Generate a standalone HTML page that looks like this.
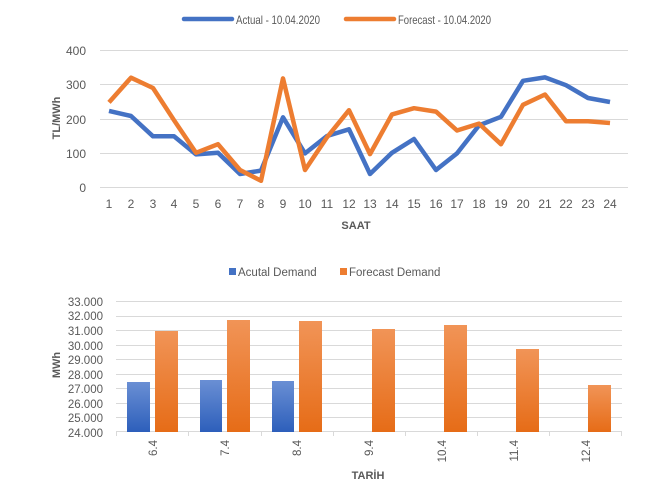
<!DOCTYPE html>
<html><head><meta charset="utf-8"><style>
html,body{margin:0;padding:0;background:#fff}
svg text{font-family:"Liberation Sans",sans-serif;fill:#595959}
</style></head><body>
<svg width="649" height="490" xmlns="http://www.w3.org/2000/svg">
<defs>
<linearGradient id="gb" x1="0" y1="0" x2="0" y2="1"><stop offset="0" stop-color="#6a8fd4"/><stop offset="1" stop-color="#2d5fbb"/></linearGradient>
<linearGradient id="go" x1="0" y1="0" x2="0" y2="1"><stop offset="0" stop-color="#f19457"/><stop offset="1" stop-color="#e66c17"/></linearGradient>
</defs>
<!-- top legend -->
<line x1="184" y1="19" x2="232" y2="19" stroke="#4472c4" stroke-width="4.5" stroke-linecap="round"/>
<text x="236" y="24" font-size="12" textLength="84" lengthAdjust="spacingAndGlyphs">Actual - 10.04.2020</text>
<line x1="346" y1="19" x2="394" y2="19" stroke="#ed7d31" stroke-width="4.5" stroke-linecap="round"/>
<text x="398" y="24" font-size="12" textLength="93" lengthAdjust="spacingAndGlyphs">Forecast - 10.04.2020</text>
<!-- top grid -->
<g stroke="#d9d9d9" stroke-width="1">
<line x1="100" y1="50.5" x2="628" y2="50.5"/>
<line x1="100" y1="84.5" x2="628" y2="84.5"/>
<line x1="100" y1="119.5" x2="628" y2="119.5"/>
<line x1="100" y1="153.5" x2="628" y2="153.5"/>
<line x1="100" y1="187.5" x2="628" y2="187.5"/>
</g>
<g font-size="12" text-anchor="end">
<text x="86" y="55">400</text><text x="86" y="89">300</text><text x="86" y="124">200</text><text x="86" y="158">100</text><text x="86" y="192">0</text>
</g>
<g font-size="12" text-anchor="middle">
<text x="109" y="208">1</text><text x="131" y="208">2</text><text x="153" y="208">3</text><text x="174" y="208">4</text><text x="196" y="208">5</text><text x="218" y="208">6</text><text x="240" y="208">7</text><text x="261" y="208">8</text><text x="283" y="208">9</text><text x="305" y="208">10</text><text x="327" y="208">11</text><text x="349" y="208">12</text><text x="370" y="208">13</text><text x="392" y="208">14</text><text x="414" y="208">15</text><text x="436" y="208">16</text><text x="457" y="208">17</text><text x="479" y="208">18</text><text x="501" y="208">19</text><text x="523" y="208">20</text><text x="545" y="208">21</text><text x="566" y="208">22</text><text x="588" y="208">23</text><text x="610" y="208">24</text>
</g>
<text x="356" y="229" font-size="11" font-weight="bold" text-anchor="middle">SAAT</text>
<text transform="translate(60,118) rotate(-90)" font-size="11" font-weight="bold" text-anchor="middle">TL/MWh</text>
<polyline fill="none" stroke="#4472c4" stroke-width="4.5" stroke-linejoin="round" points="109,110.9 131,116 153,136.3 174,136.3 196,154.4 218,152.8 240,174 261,170.6 283,117.3 305,153.4 327,136 349,129.3 370,174 392,152.8 414,139 436,170 457,153.4 479,125.4 501,116.8 523,80.8 545,77.4 566,85.2 588,98 610,102"/>
<polyline fill="none" stroke="#ed7d31" stroke-width="4.5" stroke-linejoin="round" points="109,102.4 131,77.7 153,88 174,120.2 196,152.8 218,144.2 240,170 261,180.8 283,78.4 305,170 327,137.3 349,110.2 370,154.1 392,114.4 414,108.2 436,111.6 457,130.5 479,123.6 501,144.2 523,104.8 545,94.5 566,121.2 588,121.2 610,123"/>
<!-- bottom legend -->
<rect x="229" y="268" width="7" height="7" fill="#4472c4"/>
<text x="238" y="276" font-size="11.5">Acutal Demand</text>
<rect x="340" y="268" width="7" height="7" fill="#ed7d31"/>
<text x="349" y="276" font-size="11.5">Forecast Demand</text>
<g stroke="#d9d9d9" stroke-width="1">
<line x1="116" y1="301.5" x2="622" y2="301.5"/>
<line x1="116" y1="316.5" x2="622" y2="316.5"/>
<line x1="116" y1="330.5" x2="622" y2="330.5"/>
<line x1="116" y1="345.5" x2="622" y2="345.5"/>
<line x1="116" y1="359.5" x2="622" y2="359.5"/>
<line x1="116" y1="374.5" x2="622" y2="374.5"/>
<line x1="116" y1="388.5" x2="622" y2="388.5"/>
<line x1="116" y1="403.5" x2="622" y2="403.5"/>
<line x1="116" y1="417.5" x2="622" y2="417.5"/>
<line x1="116" y1="431.5" x2="622" y2="431.5"/>
<line x1="116.5" y1="431" x2="116.5" y2="436"/><line x1="188.5" y1="431" x2="188.5" y2="436"/><line x1="261.5" y1="431" x2="261.5" y2="436"/><line x1="333.5" y1="431" x2="333.5" y2="436"/><line x1="405.5" y1="431" x2="405.5" y2="436"/><line x1="477.5" y1="431" x2="477.5" y2="436"/><line x1="549.5" y1="431" x2="549.5" y2="436"/><line x1="621.5" y1="431" x2="621.5" y2="436"/>
</g>
<g font-size="11.5" text-anchor="end">
<text x="103" y="306">33.000</text><text x="103" y="320">32.000</text><text x="103" y="335">31.000</text><text x="103" y="350">30.000</text><text x="103" y="364">29.000</text><text x="103" y="379">28.000</text><text x="103" y="393">27.000</text><text x="103" y="408">26.000</text><text x="103" y="422">25.000</text><text x="103" y="437">24.000</text>
</g>
<g>
<rect x="127" y="382" width="23" height="50" fill="url(#gb)"/>
<rect x="155" y="331" width="23" height="101" fill="url(#go)"/>
<rect x="200" y="380" width="22" height="52" fill="url(#gb)"/>
<rect x="227" y="320" width="23" height="112" fill="url(#go)"/>
<rect x="272" y="381" width="22" height="51" fill="url(#gb)"/>
<rect x="299" y="321" width="23" height="111" fill="url(#go)"/>
<rect x="372" y="329" width="23" height="103" fill="url(#go)"/>
<rect x="444" y="325" width="23" height="107" fill="url(#go)"/>
<rect x="516" y="349" width="23" height="83" fill="url(#go)"/>
<rect x="588" y="385" width="23" height="47" fill="url(#go)"/>
</g>
<g font-size="11.5" text-anchor="end">
<text transform="translate(157,440) rotate(-90)">6.4</text>
<text transform="translate(229,440) rotate(-90)">7.4</text>
<text transform="translate(301,440) rotate(-90)">8.4</text>
<text transform="translate(373,440) rotate(-90)">9.4</text>
<text transform="translate(446,440) rotate(-90)">10.4</text>
<text transform="translate(518,440) rotate(-90)">11.4</text>
<text transform="translate(590,440) rotate(-90)">12.4</text>
</g>
<text x="368" y="479" font-size="11" font-weight="bold" text-anchor="middle">TARİH</text>
<text transform="translate(60,365) rotate(-90)" font-size="11" font-weight="bold" text-anchor="middle">MWh</text>
</svg>
</body></html>
